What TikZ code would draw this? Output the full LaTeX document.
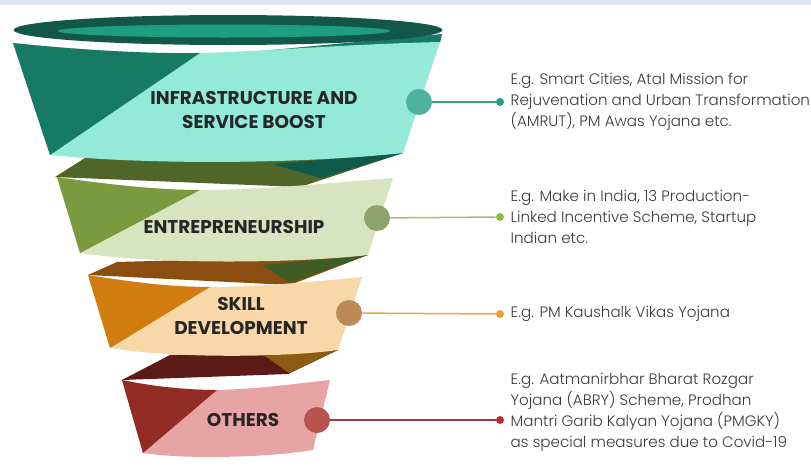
\documentclass[tikz,border=0pt]{standalone}
\usepackage{fontspec}
\setmainfont{Poppins}
\newfontfamily\descfont{Poppins Light}
\usetikzlibrary{positioning}
\definecolor{topstrip}{HTML}{DDE6F2}
\definecolor{rimdark}{HTML}{13574A}
\definecolor{riminner}{HTML}{1E9E80}
\definecolor{teallight}{HTML}{93EAD8}
\definecolor{tealdark}{HTML}{177A64}
\definecolor{tealback}{HTML}{0F5A48}
\definecolor{tealknob}{HTML}{4DB39E}
\definecolor{tealdot}{HTML}{239C82}
\definecolor{tealline}{HTML}{3AA08A}
\definecolor{greenlight}{HTML}{D8E4C0}
\definecolor{greendark}{HTML}{7A9A40}
\definecolor{greenback}{HTML}{4F6628}
\definecolor{greenfold}{HTML}{3F5C25}
\definecolor{greenknob}{HTML}{8FA36B}
\definecolor{greendot}{HTML}{8DBA4E}
\definecolor{greenline}{HTML}{A0C070}
\definecolor{orangelight}{HTML}{F8D7A8}
\definecolor{orangedark}{HTML}{D07C0E}
\definecolor{orangeback}{HTML}{8B4E10}
\definecolor{orangefold}{HTML}{8F5A12}
\definecolor{orangeknob}{HTML}{BB8A55}
\definecolor{orangedot}{HTML}{F2A033}
\definecolor{orangeline}{HTML}{E8A848}
\definecolor{redlight}{HTML}{E8A4A4}
\definecolor{reddark}{HTML}{922B24}
\definecolor{redback}{HTML}{5E1A16}
\definecolor{redknob}{HTML}{B85450}
\definecolor{reddot}{HTML}{C4292C}
\definecolor{redline}{HTML}{A83A3A}
\definecolor{labelgray}{HTML}{262626}
\definecolor{descgray}{HTML}{3A3A3A}
\tikzset{
  knob/.style={circle,inner sep=0,minimum size=0.52cm},
  enddot/.style={circle,inner sep=0,minimum size=0.16cm},
  bandtext/.style={font=\bfseries\fontsize{10.5}{14}\selectfont,text=labelgray,align=center,inner sep=0},
  desc/.style={font=\descfont\fontsize{8.6}{12}\selectfont,text=descgray,align=left,inner sep=0},
  link/.style={line width=0.85pt},
}

\begin{document}
\begin{tikzpicture}[x=0.02cm,y=-0.02cm]
	    \useasboundingbox (0,0) rectangle (811,467);
	    \fill[topstrip] (0,0) rectangle (811,5);
	    % folds between the bands
	    \fill[tealdark] (250,52) -- (442,34) -- (440,43) -- cycle;
	    \fill[greenback] (55,177) -- (85,158) -- (403,153) -- (300,187) -- cycle;
	    \fill[tealback] (272,164) -- (403,153) -- (321,178) -- cycle;
	    \fill[orangeback] (88,275) -- (117,262) -- (368,255) -- (290,285) -- cycle;
	    \fill[greenfold] (262,265) -- (368,255) -- (290,283) -- cycle;
	    \fill[redback] (122,380) -- (170,355) -- (338,350) -- (288,374) -- cycle;
	    \fill[orangefold] (265,356) -- (338,350) -- (289,373) -- cycle;
	    % bands
	    \fill[teallight] (13,43) .. controls (80,50) and (150,54) .. (200,53)
	    	.. controls (250,52) and (350,44) .. (440,42) -- (403,153)
	    	.. controls (300,164) and (150,165) .. (50,155) -- cycle;
	    \fill[tealdark] (13,43) .. controls (80,50) and (150,54) .. (200,53) -- (50,155) -- cycle;
	    \fill[greenlight] (57,177) .. controls (110,185) and (160,190) .. (200,190)
	    	.. controls (260,190) and (330,183) .. (393,178) -- (368,255)
	    	.. controls (300,263) and (160,265) .. (80,253) -- cycle;
	    \fill[greendark] (57,177) .. controls (110,185) and (160,190) .. (200,190) -- (80,253) -- cycle;
	    \fill[orangelight] (88,275) .. controls (130,282) and (170,287) .. (210,287)
	    	.. controls (260,287) and (320,281) .. (362,277) -- (338,350)
	    	.. controls (280,358) and (170,358) .. (110,348) -- cycle;
	    \fill[orangedark] (88,275) .. controls (130,282) and (170,287) .. (210,287) -- (110,348) -- cycle;
	    \fill[redlight] (122,380) .. controls (150,386) and (185,390) .. (217,390)
	    	.. controls (260,389) and (300,383) .. (330,380) -- (313,450)
	    	.. controls (270,457) and (190,460) .. (143,453) -- cycle;
	    \fill[reddark] (122,380) .. controls (150,386) and (185,390) .. (217,390) -- (143,453) -- cycle;
	    % funnel rim
	    \fill[rimdark] (228,30) ellipse [x radius=4.29cm, y radius=0.30cm];
	    \fill[riminner] (224,31) ellipse [x radius=3.32cm, y radius=0.13cm];
	    % band titles
	    \node[bandtext] (L1) at (254,110) {INFRASTRUCTURE AND\\SERVICE BOOST};
	    \node[bandtext] (L2) at (234,227) {ENTREPRENEURSHIP};
	    \node[bandtext] (L3) at (241,316) {SKILL\\DEVELOPMENT};
	    \node[bandtext] (L4) at (243,420) {OTHERS};
	    % knobs, ends and examples
	    \node[knob,fill=tealknob] (A1) at (419,102) {};
	    \node[knob,fill=greenknob] (A2) at (377,218) {};
	    \node[knob,fill=orangeknob] (A3) at (349,313) {};
	    \node[knob,fill=redknob] (A4) at (317,420) {};
	    \node[enddot,fill=tealdot] (B1) at (500,102) {};
	    \node[enddot,fill=greendot] (B2) at (500,217) {};
	    \node[enddot,fill=orangedot] (B3) at (500,314) {};
	    \node[enddot,fill=reddot] (B4) at (500,420) {};
	    \draw[link,tealline] (A1) -- (B1);
	    \draw[link,greenline] (A2) -- (B2);
	    \draw[link,orangeline] (A3) -- (B3);
	    \draw[link,redline] (A4) -- (B4);
	    \node[desc,right=0.12cm of B1] (C1) {E.g. Smart Cities, Atal Mission for\\Rejuvenation and Urban Transformation\\(AMRUT), PM Awas Yojana etc.};
	    \node[desc,right=0.12cm of B2] (C2) {E.g. Make in India, 13 Production-\\Linked Incentive Scheme, Startup\\Indian etc.};
	    \node[desc,right=0.12cm of B3] (C3) {E.g. PM Kaushalk Vikas Yojana};
	    \node[desc,right=0.12cm of B4,yshift=0.15cm] (C4) {E.g. Aatmanirbhar Bharat Rozgar\\Yojana (ABRY) Scheme, Prodhan\\Mantri Garib Kalyan Yojana (PMGKY)\\as special measures due to Covid-19};
	\end{tikzpicture}
\end{document}
